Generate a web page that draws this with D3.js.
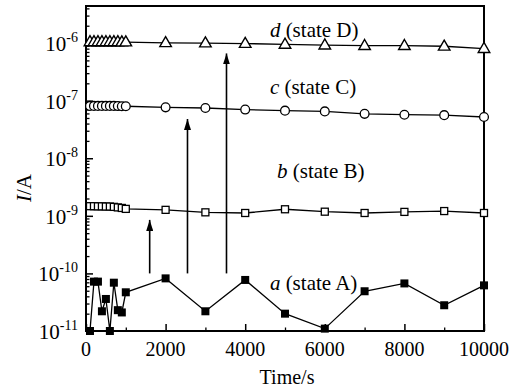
<!DOCTYPE html>
<html><head><meta charset="utf-8">
<script src="https://cdn.jsdelivr.net/npm/d3@7"></script>
<style>body{margin:0;background:#fff} svg{display:block}</style>
</head><body>
<svg id="c" width="520" height="392"></svg>
<script>
// ---------- data ----------
const times = [100,200,300,400,500,600,700,800,900,1000,2000,3000,4000,5000,6000,7000,8000,9000,10000];
const seriesA = [1.0e-11,7.2e-11,7.2e-11,2.2e-11,3.6e-11,1.0e-11,6.9e-11,2.3e-11,2.1e-11,4.7e-11,8.2e-11,2.2e-11,7.7e-11,2.0e-11,1.1e-11,4.9e-11,6.7e-11,2.8e-11,6.2e-11];
const seriesB = [1.47e-9,1.47e-9,1.46e-9,1.46e-9,1.45e-9,1.45e-9,1.43e-9,1.40e-9,1.37e-9,1.32e-9,1.27e-9,1.15e-9,1.12e-9,1.30e-9,1.18e-9,1.12e-9,1.17e-9,1.21e-9,1.12e-9];
const seriesC = [8.1e-8,8.1e-8,8.1e-8,8.1e-8,8.1e-8,8.1e-8,8.1e-8,8.05e-8,8.0e-8,8.0e-8,7.65e-8,7.45e-8,7.0e-8,6.7e-8,6.5e-8,5.9e-8,5.7e-8,5.6e-8,5.2e-8];
const seriesD = [1.05e-6,1.05e-6,1.05e-6,1.05e-6,1.05e-6,1.05e-6,1.05e-6,1.05e-6,1.04e-6,1.04e-6,1.01e-6,1.0e-6,0.98e-6,0.95e-6,0.92e-6,0.9e-6,0.9e-6,0.88e-6,0.8e-6];
const seriesLetters = ["a","b","c","d"];
const seriesStates = ["(state A)","(state B)","(state C)","(state D)"];
const xTickValues = [0,2000,4000,6000,8000,10000];
const xMinorTicks = [1000,3000,5000,7000,9000];
const yExponents = [-6,-7,-8,-9,-10,-11];
const arrowTimes = [1600,2550,3530];
const arrowFrom = [1e-10,1e-10,1e-10];
const arrowTo = [8.5e-10,4.8e-8,6.6e-7];
const labelTimes = [4620,4800,4620,4620];
const labelValues = [5.2e-11,4.6e-9,1.33e-7,1.27e-6];

// ---------- layout ----------
const svg = d3.select("#c");
const L = 86, R = 484, T = 6, B = 331;
const FONT = "'Liberation Serif','Times New Roman',serif";
const x = d3.scaleLinear().domain([0,10000]).range([L,R]);
const y = d3.scaleLog().domain([1e-11,4.4e-6]).range([B,T]);

// ticks (inward)
const yAll = y.ticks().filter(v => v >= 1e-11 && v <= 4.4e-6);
const isMajor = v => Math.abs(Math.log10(v) - Math.round(Math.log10(v))) < 1e-6;
svg.append("g").attr("transform",`translate(${L},0)`)
  .call(d3.axisLeft(y).tickValues(yAll.filter(v=>!isMajor(v))).tickSize(-3.5).tickFormat(""))
  .call(g=>g.select(".domain").remove())
  .call(g=>g.selectAll("line").attr("stroke","#000").attr("stroke-width",1.3));
svg.append("g").attr("transform",`translate(${L},0)`)
  .call(d3.axisLeft(y).tickValues(yAll.filter(isMajor)).tickSize(-7).tickFormat(""))
  .call(g=>g.select(".domain").remove())
  .call(g=>g.selectAll("line").attr("stroke","#000").attr("stroke-width",1.5));
svg.append("g").attr("transform",`translate(0,${B})`)
  .call(d3.axisBottom(x).tickValues(xMinorTicks).tickSize(-3.5).tickFormat(""))
  .call(g=>g.select(".domain").remove())
  .call(g=>g.selectAll("line").attr("stroke","#000").attr("stroke-width",1.3));
svg.append("g").attr("transform",`translate(0,${B})`)
  .call(d3.axisBottom(x).tickValues(xTickValues).tickSize(-7).tickFormat(""))
  .call(g=>g.select(".domain").remove())
  .call(g=>g.selectAll("line").attr("stroke","#000").attr("stroke-width",1.5));

// frame
svg.append("rect").attr("x",L).attr("y",T).attr("width",R-L).attr("height",B-T)
  .attr("fill","none").attr("stroke","#000").attr("stroke-width",2);

// x tick labels
svg.append("g").selectAll("text").data(xTickValues).join("text")
  .attr("x",d=>x(d)).attr("y",B+25).attr("text-anchor","middle")
  .attr("font-family",FONT).attr("font-size",20).text(d=>d);

// y tick labels with superscripts
const yl = svg.append("g").selectAll("text").data(yExponents).join("text")
  .attr("x",L-8).attr("y",d=>y(Math.pow(10,d))+8).attr("text-anchor","end")
  .attr("font-family",FONT).attr("font-size",21);
yl.append("tspan").text("10");
yl.append("tspan").attr("dy",-9).attr("font-size",14).text(d=>"-"+(-d));

// axis titles
svg.append("text").attr("x",(L+R)/2+2).attr("y",384).attr("text-anchor","middle")
  .attr("font-family",FONT).attr("font-size",20).text("Time/s");
const yt = svg.append("text").attr("transform","translate(31,188) rotate(-90)")
  .attr("text-anchor","middle").attr("font-family",FONT).attr("font-size",21);
yt.append("tspan").attr("font-style","italic").text("I");
yt.append("tspan").text("/A");

// arrows
svg.append("defs").append("marker").attr("id","ah").attr("viewBox","0 0 10 10")
  .attr("refX",10).attr("refY",5).attr("markerWidth",11).attr("markerHeight",7)
  .attr("markerUnits","userSpaceOnUse").attr("orient","auto").attr("preserveAspectRatio","none")
  .append("path").attr("d","M0,0 L10,5 L0,10 Z").attr("fill","#000");
svg.append("g").selectAll("line").data(arrowTimes).join("line")
  .attr("x1",d=>x(d)).attr("x2",d=>x(d))
  .attr("y1",(d,i)=>y(arrowFrom[i])).attr("y2",(d,i)=>y(arrowTo[i]))
  .attr("stroke","#000").attr("stroke-width",1.6).attr("marker-end","url(#ah)");

// series
const seriesVals = [seriesA, seriesB, seriesC, seriesD];
const line = d3.line().x(d=>x(d[0])).y(d=>y(d[1]));
seriesVals.forEach(vals=>{
  svg.append("path").datum(times.map((t,i)=>[t,vals[i]]))
    .attr("d",line).attr("fill","none").attr("stroke","#000").attr("stroke-width",1.3);
});
const sq = 8, sqB = 7;
svg.append("g").selectAll("rect").data(times).join("rect")
  .attr("x",(d)=>x(d)-sq/2).attr("y",(d,i)=>y(seriesA[i])-sq/2)
  .attr("width",sq).attr("height",sq).attr("fill","#000");
svg.append("g").selectAll("rect").data(times).join("rect")
  .attr("x",(d)=>x(d)-sqB/2).attr("y",(d,i)=>y(seriesB[i])-sqB/2)
  .attr("width",sqB).attr("height",sqB).attr("fill","#fff").attr("stroke","#000").attr("stroke-width",1.3);
svg.append("g").selectAll("circle").data(times).join("circle")
  .attr("cx",d=>x(d)).attr("cy",(d,i)=>y(seriesC[i])).attr("r",4.4)
  .attr("fill","#fff").attr("stroke","#000").attr("stroke-width",1.3);
const tri = d3.symbol().type(d3.symbolTriangle).size(58);
svg.append("g").selectAll("path").data(times).join("path")
  .attr("transform",(d,i)=>`translate(${x(d)},${y(seriesD[i])+0.5})`)
  .attr("d",tri).attr("fill","#fff").attr("stroke","#000").attr("stroke-width",1.4);

// series labels
const lab = svg.append("g").selectAll("text").data(seriesLetters).join("text")
  .attr("x",(d,i)=>x(labelTimes[i])).attr("y",(d,i)=>y(labelValues[i]))
  .attr("font-family",FONT).attr("font-size",21);
lab.append("tspan").attr("font-style","italic").text(d=>d);
lab.append("tspan").text((d,i)=>" "+seriesStates[i]);
</script>
</body></html>
